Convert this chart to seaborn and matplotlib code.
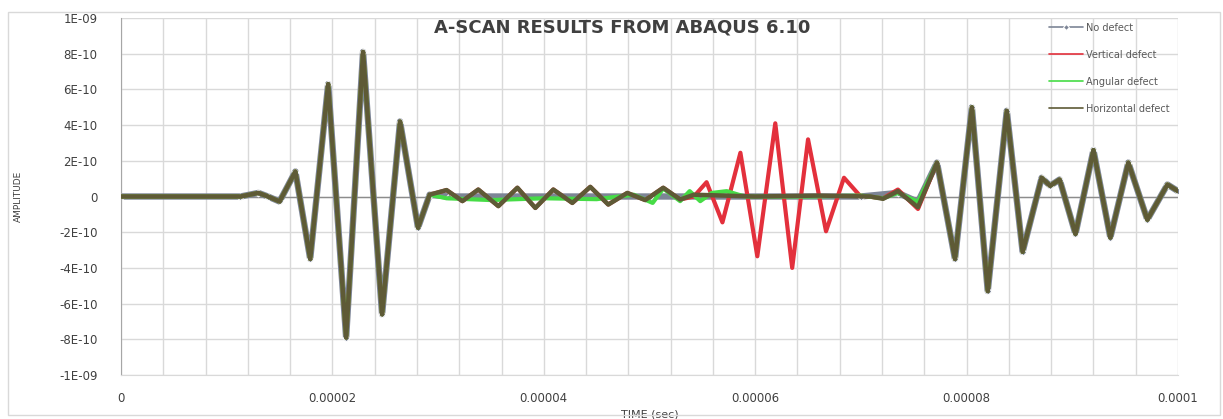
import numpy as np
import pandas as pd
import matplotlib
matplotlib.use("Agg")
import matplotlib.pyplot as plt
from matplotlib.patches import Rectangle
import seaborn as sns

# times in microseconds, amplitudes in units of 1E-10
incident_t = [0, 11.3, 13.0, 13.9, 15.0, 16.5, 17.9, 19.6, 21.3, 22.9, 24.7, 26.4, 28.1, 29.2]
incident_a = [0, 0, 0.2, 0.0, -0.28, 1.4, -3.5, 6.3, -7.9, 8.1, -6.6, 4.2, -1.75, 0.1]

mid_t = [30.8, 32.3, 33.8, 35.7, 37.5, 39.2, 40.9, 42.7, 44.4, 46.1, 47.9, 49.6, 51.3, 52.9]
mid_a = [0.36, -0.26, 0.39, -0.54, 0.49, -0.64, 0.39, -0.36, 0.54, -0.45, 0.2, -0.2, 0.49, -0.17]

vert_t = [54.2, 55.4, 56.9, 58.6, 60.2, 61.9, 63.5, 65.0, 66.7, 68.4, 69.9, 72.1, 73.5, 75.4]
vert_a = [0.0, 0.8, -1.45, 2.45, -3.35, 4.1, -4.0, 3.2, -1.95, 1.05, 0.05, -0.1, 0.39, -0.7]

horiz_t = [54.2, 60.0, 66.0, 70.9, 72.1, 73.5, 75.4]
horiz_a = [0.1, 0.0, 0.05, 0.0, -0.13, 0.3, -0.6]

ang_t = [30.8, 35.0, 40.0, 45.0, 48.5, 50.3, 51.3, 52.9, 53.8, 54.8, 55.9, 57.3, 59.0, 65.0, 70.0, 72.1, 73.5, 75.4]
ang_a = [-0.1, -0.2, -0.1, -0.15, 0.1, -0.36, 0.45, -0.26, 0.3, -0.26, 0.2, 0.3, 0.0, 0.0, 0.05, -0.1, 0.2, -0.3]

none_t = [31.0, 50.0, 70.0, 73.5, 75.4]
none_a = [0.0, 0.0, 0.0, 0.2, -0.3]

echo_t = [77.2, 78.9, 80.5, 82.0, 83.8, 85.3, 87.1, 87.9, 88.8, 90.3, 92.0, 93.6, 95.3, 97.1, 99.0, 100.0]
echo_a = [1.9, -3.5, 5.0, -5.3, 4.8, -3.1, 1.05, 0.6, 0.95, -2.1, 2.6, -2.3, 1.9, -1.3, 0.67, 0.3]

series_names = ["No defect", "Vertical defect", "Angular defect", "Horizontal defect"]
series_parts = {
    "No defect": [(none_t, none_a)],
    "Vertical defect": [(mid_t, mid_a), (vert_t, vert_a)],
    "Angular defect": [(ang_t, ang_a)],
    "Horizontal defect": [(mid_t, mid_a), (horiz_t, horiz_a)],
}

y_ticks = [1e-9, 8e-10, 6e-10, 4e-10, 2e-10, 0, -2e-10, -4e-10, -6e-10, -8e-10, -1e-9]
y_labels = ["1E-09", "8E-10", "6E-10", "4E-10", "2E-10", "0", "-2E-10", "-4E-10", "-6E-10", "-8E-10", "-1E-09"]
x_ticks = [0, 2e-5, 4e-5, 6e-5, 8e-5, 1e-4]
x_labels = ["0", "0.00002", "0.00004", "0.00006", "0.00008", "0.0001"]

rows = []
for name in series_names:
    t = list(incident_t)
    a = list(incident_a)
    for pt, pa in series_parts[name]:
        t += pt
        a += pa
    t += echo_t
    a += echo_a
    for ti, ai in zip(t, a):
        rows.append({"series": name, "time": ti * 1e-6, "amp": ai * 1e-10})
df = pd.DataFrame(rows)

sns.set_style("white")
plt.rcParams["font.family"] = ["DejaVu Sans"]

fig = plt.figure(figsize=(12.23, 4.19), dpi=100)
ax = fig.add_axes([121 / 1223, 1 - 375 / 419, 1057 / 1223, 357 / 419])

styles = {
    "No defect": dict(color="#7d8596", lw=4.6, zorder=2, marker="D", ms=3.5),
    "Vertical defect": dict(color="#e3303c", lw=3.0, zorder=3),
    "Angular defect": dict(color="#46dc46", lw=3.0, zorder=4),
    "Horizontal defect": dict(color="#5e5a36", lw=3.2, zorder=5),
}
for name in series_names:
    st = styles[name]
    sns.lineplot(data=df[df["series"] == name], x="time", y="amp", ax=ax,
                 sort=False, estimator=None, label=name, **st)

ax.set_xlim(0, 1e-4)
ax.set_ylim(-1e-9, 1e-9)
ax.set_xticks(x_ticks)
ax.set_xticklabels(x_labels)
ax.set_xticks(np.arange(0, 1.0001e-4, 4e-6), minor=True)
ax.set_yticks(y_ticks)
ax.set_yticklabels(y_labels)
ax.grid(True, axis="x", which="both", color="#d9d9d9", lw=1)
ax.grid(True, axis="y", which="major", color="#d9d9d9", lw=1)
ax.set_axisbelow(True)
ax.axhline(0, color="#8c8c8c", lw=1, zorder=1)
ax.tick_params(axis="both", which="both", length=0, labelcolor="#404040", labelsize=8.5)
ax.tick_params(axis="y", pad=17)
ax.tick_params(axis="x", pad=12)
for s in ["top", "right"]:
    ax.spines[s].set_visible(False)
ax.spines["left"].set_color("#a6a6a6")
ax.spines["bottom"].set_color("#d9d9d9")

ax.set_xlabel("TIME (sec)", fontsize=8, color="#404040")
ax.xaxis.set_label_coords(0.5, -0.098)
ax.set_ylabel("AMPLITUDE", fontsize=6.5, color="#404040")
ax.yaxis.set_label_coords(-0.093, 0.5)

ax.text(0.474, 0.972, "A-SCAN RESULTS FROM ABAQUS 6.10", transform=ax.transAxes,
        ha="center", va="center", fontsize=13, fontweight="bold", color="#404040")

handles, labels = ax.get_legend_handles_labels()
leg = ax.legend(handles, labels, loc="upper left", bbox_to_anchor=(1040 / 1223, 1 - 14 / 419),
                bbox_transform=fig.transFigure, frameon=False, fontsize=7,
                labelspacing=1.75, handlelength=3.5, handletextpad=0.3, labelcolor="#595959")
for h in leg.legend_handles:
    h.set_linewidth(1.2)
    h.set_markersize(3)

fig.patches.append(Rectangle((8 / 1223, 1 - 415 / 419), 1212 / 1223, 403 / 419,
                             transform=fig.transFigure, fill=False, edgecolor="#d9d9d9", lw=1))

fig.savefig("out.png", dpi=100)
